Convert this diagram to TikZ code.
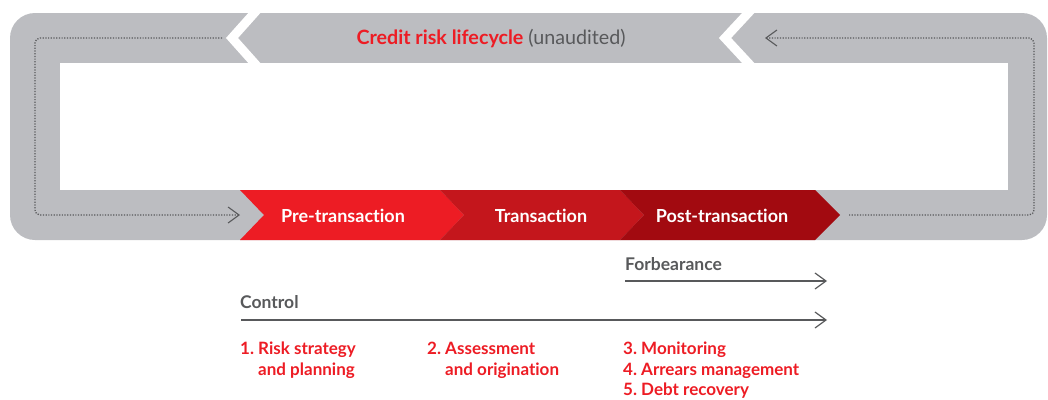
\documentclass[tikz,border=0pt]{standalone}
\usepackage{fontspec}
\setmainfont{Lato}[Ligatures={NoCommon}]
\usepackage{tikz}
\usetikzlibrary{arrows.meta, positioning}
\definecolor{bandgrey}{HTML}{BCBDC1}
\definecolor{redA}{HTML}{ED1C24}
\definecolor{redB}{HTML}{C4161C}
\definecolor{redC}{HTML}{A20A10}
\definecolor{textgrey}{HTML}{58595B}
\tikzstyle{stage} = [text=white, font=\bfseries\fontsize{18}{20}\selectfont]
\tikzstyle{looparrow} = [textgrey, line width=1.3pt, dash pattern=on 1.2pt off 1.5pt, rounded corners=5pt, -{Straight Barb[length=11pt,width=16pt,line width=1.1pt]}]
\tikzstyle{openarrow} = [textgrey, line width=1.2pt, -{Straight Barb[length=11pt,width=16pt]}]
\tikzstyle{heading} = [anchor=base west, inner sep=0pt, text=textgrey, font=\bfseries\fontsize{17.5}{20}\selectfont]
\tikzstyle{steplabel} = [anchor=base west, inner sep=0pt, align=left, text=redA, font=\bfseries\fontsize{17}{20.5}\selectfont]

\begin{document}
\begin{tikzpicture}[x=1pt,y=-1pt]
    \useasboundingbox (0,0) rectangle (1048,399);
    % grey frame with white window
    \fill[bandgrey, rounded corners=25pt] (10,13) rectangle (1047,240);
    \fill[white] (60,63) rectangle (1008,190);
    \draw[white, line width=9pt] (257,10) -- (232,38) -- (257,66);
    \draw[white, line width=9pt] (751,10) -- (725,38) -- (751,66);
    \node (title) at (491,39) {\fontsize{19.7}{20}\selectfont\textcolor{redA}{\bfseries Credit risk lifecycle} \textcolor{textgrey}{(unaudited)}};

    % stages
    \fill[redA] (240,190) -- (440,190) -- (464,215) -- (440,240) -- (240,240) -- (264,215) -- cycle;
    \fill[redB] (440,190) -- (620,190) -- (644,215) -- (620,240) -- (440,240) -- (464,215) -- cycle;
    \fill[redC] (620,190) -- (815,190) -- (840,215) -- (815,240) -- (620,240) -- (644,215) -- cycle;
    \node[stage] (pre) at (343,216) {Pre-transaction};
    \node[stage] (trans) at (541,216) {Transaction};
    \node[stage] (post) at (722,216) {Post-transaction};

    % loop back
    \coordinate (lt) at (222,38);
    \coordinate (lb) at (240,215);
    \coordinate (rb) at (849,215);
    \coordinate (rt) at (765,38);
    \draw[looparrow] (lt) -- (35,38) |- (lb);
    \draw[looparrow] (rb) -- (1034,215) |- (rt);

    % forbearance and control
    \node[heading] (forb) at (625,270) {Forbearance};
    \coordinate (fs) at (625,281);
    \coordinate (fe) at (827,281);
    \draw[openarrow] (fs) -- (fe);
    \node[heading] (ctrl) at (240,308) {Control};
    \coordinate (cs) at (241,320);
    \coordinate (ce) at (827,320);
    \draw[openarrow] (cs) -- (ce);

    % steps (base = last line)
    \node[steplabel] (s1) at (240,375) {1.~Risk strategy\\\hphantom{1.~}and planning};
    \node[steplabel] (s2) at (427,375) {2.~Assessment\\\hphantom{2.~}and origination};
    \node[steplabel] (s3) at (623,395.5) {3.~Monitoring\\4.~Arrears management\\5.~Debt recovery};
\end{tikzpicture}
\end{document}
